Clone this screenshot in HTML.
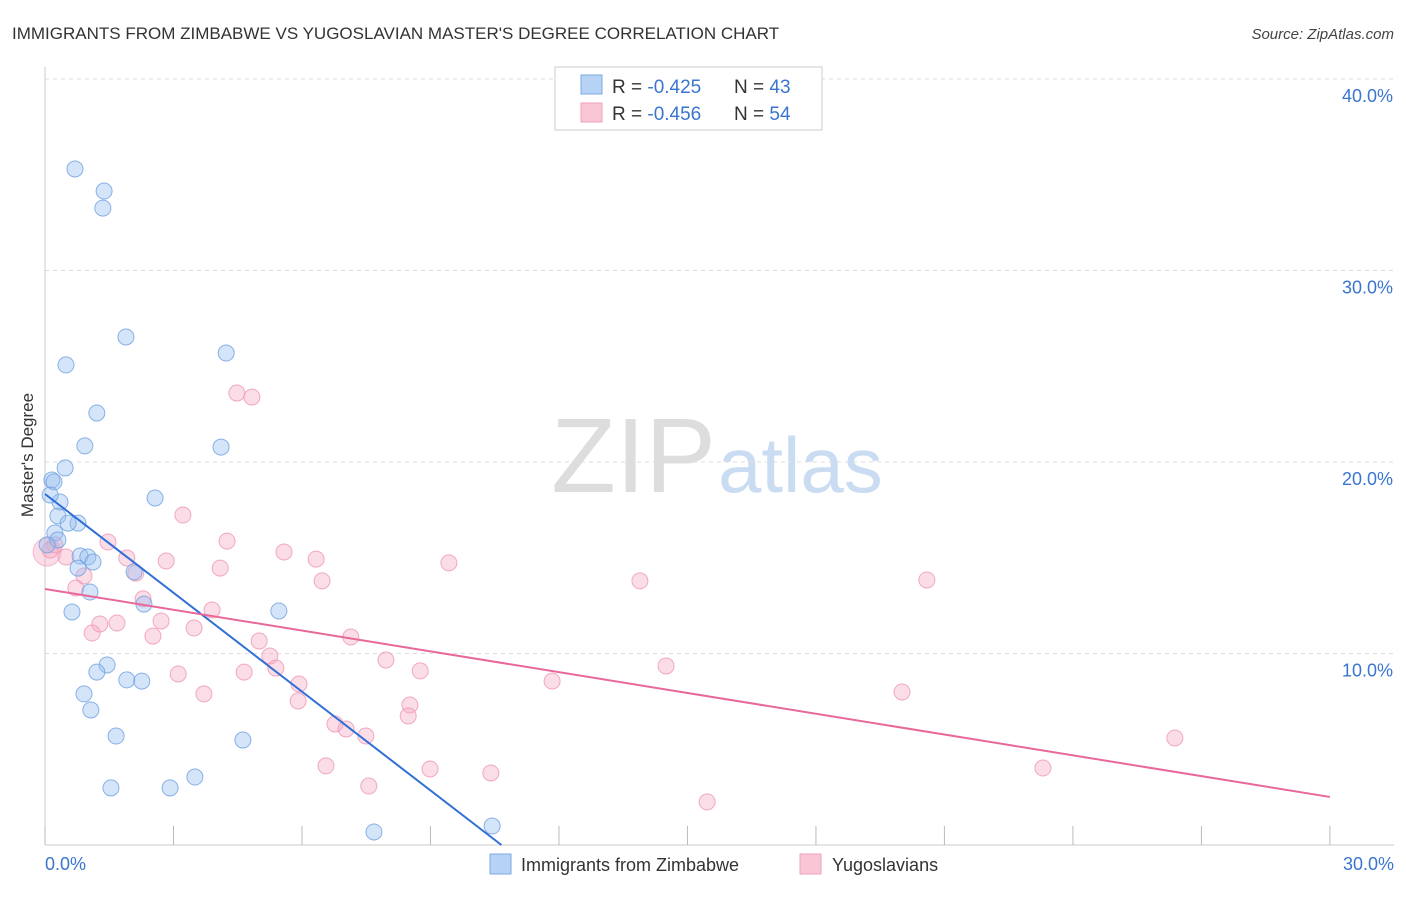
<!DOCTYPE html>
<html><head><meta charset="utf-8"><style>
body{margin:0;background:#fff;font-family:"Liberation Sans",sans-serif;}
svg text{font-family:"Liberation Sans",sans-serif;}
</style></head><body>
<svg id="chart" width="1406" height="892" xmlns="http://www.w3.org/2000/svg">
<text x="12" y="39" font-size="17" fill="#333">IMMIGRANTS FROM ZIMBABWE VS YUGOSLAVIAN MASTER'S DEGREE CORRELATION CHART</text>
<text x="1394" y="39" font-size="15" fill="#444" text-anchor="end" font-style="italic">Source: ZipAtlas.com</text>
<text x="716" y="492" font-size="106" text-anchor="end" fill="#ddd" font-family="Liberation Serif">ZIP</text>
<text x="718" y="492" font-size="78" fill="#c9dcf2">atlas</text>
<g id="grid"></g>
<g id="marks"></g>
<text transform="translate(33,455) rotate(-90)" font-size="17" fill="#333" text-anchor="middle">Master's Degree</text>
<g>
<rect x="555" y="67" width="267" height="63" fill="#fff" stroke="#ccc"/>
<rect x="581" y="75" width="21" height="19" fill="#b6d2f5" stroke="#7aaae0"/>
<rect x="581" y="103" width="21" height="19" fill="#f8c6d4" stroke="#f0a0b8"/>
<text x="612" y="93" font-size="19" fill="#333">R = <tspan fill="#3a75d0">-0.425</tspan></text>
<text x="734" y="93" font-size="19" fill="#333">N = <tspan fill="#3a75d0">43</tspan></text>
<text x="612" y="120" font-size="19" fill="#333">R = <tspan fill="#3a75d0">-0.456</tspan></text>
<text x="734" y="120" font-size="19" fill="#333">N = <tspan fill="#3a75d0">54</tspan></text>
</g>
<g>
<rect x="490" y="854" width="21" height="20" fill="#b6d2f5" stroke="#7aaae0"/>
<text x="521" y="871" font-size="18" fill="#333">Immigrants from Zimbabwe</text>
<rect x="800" y="854" width="21" height="20" fill="#f8c6d4" stroke="#f0a0b8"/>
<text x="832" y="871" font-size="18" fill="#333">Yugoslavians</text>
</g>
</svg>
<script>
const yTicks=[10,20,30,40];
const yTickLabels=["10.0%","20.0%","30.0%","40.0%"];
const xTickLabels=["0.0%","30.0%"];
const blueX=[0.70,1.38,1.35,1.89,0.49,4.23,1.21,0.93,4.11,0.47,0.16,0.21,0.35,2.57,0.12,0.30,0.77,0.54,0.23,0.30,0.82,1.00,1.12,0.77,2.08,1.05,2.31,0.63,5.46,1.45,1.21,1.91,2.26,0.91,1.07,1.66,4.62,3.50,1.54,2.92,7.68,10.44,0.05];
const blueY=[35.3,34.15,33.26,26.53,25.07,25.69,22.56,20.84,20.78,19.69,19.06,18.96,17.91,18.12,18.28,17.18,16.81,16.81,16.29,15.93,15.09,15.04,14.78,14.46,14.26,13.21,12.58,12.17,12.22,9.40,9.03,8.62,8.56,7.89,7.05,5.69,5.48,3.55,2.98,2.98,0.68,0.99,15.67];
const pinkX=[4.48,4.83,3.22,4.25,1.47,0.23,0.12,0.49,1.91,2.83,5.58,6.33,9.43,4.09,2.12,0.91,6.47,13.89,20.59,0.72,2.29,3.90,2.71,1.68,1.28,3.48,1.10,2.52,7.14,5.00,5.25,5.39,7.96,8.76,4.65,3.11,5.93,11.84,14.50,3.71,5.91,20.01,8.52,8.48,6.77,7.03,7.49,26.38,6.56,8.99,10.41,23.30,7.56,15.46];
const pinkY=[23.60,23.39,17.23,15.87,15.82,15.67,15.40,15.04,14.99,14.83,15.30,14.93,14.73,14.46,14.20,14.05,13.79,13.79,13.84,13.42,12.85,12.27,11.70,11.59,11.54,11.33,11.07,10.91,10.86,10.65,9.87,9.24,9.66,9.09,9.03,8.93,8.41,8.56,9.35,7.89,7.52,7.99,7.31,6.74,6.32,6.06,5.69,5.59,4.13,3.97,3.76,4.02,3.08,2.25];
const blueLine=[18.33,-1.72];
const pinkLine=[13.37,2.51];
const X=v=>45+v*42.83, Y=v=>845-v*19.15;
const NS="http://www.w3.org/2000/svg";
const grid=document.getElementById('grid'), marks=document.getElementById('marks');
function mk(p,tag,a){const e=document.createElementNS(NS,tag);for(const k in a)e.setAttribute(k,a[k]);p.appendChild(e);return e;}
yTicks.forEach((t,i)=>{
 const l=mk(grid,'line',{x1:45,x2:1394,y1:Y(t),y2:Y(t),stroke:'#ddd','stroke-dasharray':'4,4'});
 
 
 const tx=mk(grid,'text',{x:1393,y:Y(t)+23,'font-size':18,fill:'#3a75d0','text-anchor':'end'});tx.textContent=yTickLabels[i];
 
 
});
mk(grid,'line',{x1:45,x2:45,y1:67,y2:845,stroke:'#ccc'});
mk(grid,'line',{x1:45,x2:1394,y1:845,y2:845,stroke:'#ccc'});
for(let i=0;i<=10;i++){const l=mk(grid,'line',{x1:X(i*3),x2:X(i*3),y1:826,y2:845,stroke:'#bbb'});
 
 }
[[0,'start',45],[30,'end',1394]].forEach((d,i)=>{const t=mk(grid,'text',{x:d[2],y:870,'font-size':18,fill:'#3a75d0','text-anchor':d[1]});t.textContent=xTickLabels[i];
 
 });
const big=mk(marks,'circle',{cx:X(0.05),cy:Y(15.3),r:14,fill:'rgba(245,170,195,0.4)',stroke:'rgba(240,150,180,0.6)'});


pinkX.forEach((x,i)=>{const c=mk(marks,'circle',{cx:X(x),cy:Y(pinkY[i]),r:8,fill:'rgba(245,170,195,0.4)',stroke:'rgba(238,150,180,0.8)'});
 
 });
blueX.forEach((x,i)=>{const c=mk(marks,'circle',{cx:X(x),cy:Y(blueY[i]),r:8,fill:'rgba(150,190,240,0.4)',stroke:'rgba(110,160,225,0.8)'});
 
 });
const xEnd=-blueLine[0]/blueLine[1];
const bl=mk(marks,'line',{x1:X(0),y1:Y(blueLine[0]),x2:X(xEnd),y2:Y(0),stroke:'#2f6fd6','stroke-width':2});


const pl=mk(marks,'line',{x1:X(0),y1:Y(pinkLine[0]),x2:X(30),y2:Y(pinkLine[1]),stroke:'#e8689a','stroke-width':2});


</script>
</body></html>
